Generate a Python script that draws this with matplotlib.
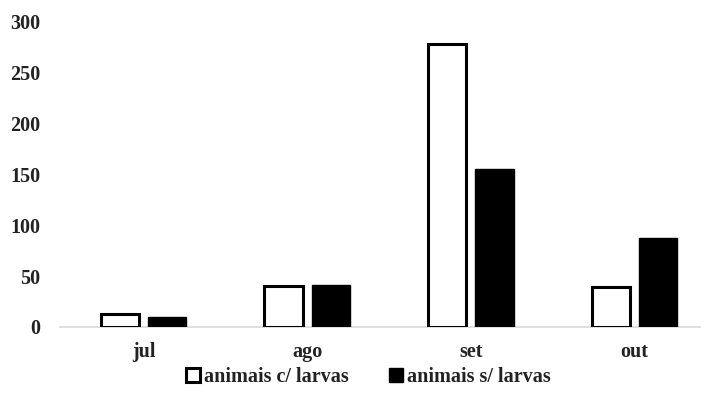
import numpy as np
import matplotlib
matplotlib.use("Agg")
import matplotlib.pyplot as plt

meses = ["jul", "ago", "set", "out"]
com_larvas = [13, 40, 278, 39]
sem_larvas = [10, 41, 155, 88]

plt.rcParams['font.family'] = ['Liberation Serif', 'DejaVu Serif']
plt.rcParams['font.weight'] = 'bold'

fig = plt.figure(figsize=(7.08, 4.09), dpi=100)
ax = fig.add_axes([60 / 708, 1 - 327 / 409, 640 / 708, (327 - 22) / 409])

x = np.arange(len(meses))
w = 0.235
ax.bar(x - 0.145, com_larvas, w, color='white', edgecolor='black', linewidth=2.2,
       label='animais c/ larvas', zorder=3)
ax.bar(x + 0.145, sem_larvas, w, color='black', edgecolor='black', linewidth=1,
       label='animais s/ larvas', zorder=3)

ax.set_xlim(-0.51, 3.4)
ax.set_ylim(0, 300)
ax.set_yticks(np.arange(0, 301, 50))
ax.set_xticks(x)
ax.set_xticklabels(meses)
for s in ['top', 'right', 'left']:
    ax.spines[s].set_visible(False)
ax.spines['bottom'].set_color('#d9d9d9')
ax.spines['bottom'].set_linewidth(1.2)
ax.tick_params(axis='both', length=0, labelsize=14.5, colors='#222222')
ax.tick_params(axis='y', pad=14)
ax.tick_params(axis='x', pad=11)

leg = fig.legend(loc='lower center', bbox_to_anchor=(0.52, 0.01), ncol=2, frameon=False,
                 fontsize=14.5, handlelength=0.7, handleheight=0.7, handletextpad=0.2,
                 columnspacing=2.0)
for t in leg.get_texts():
    t.set_color('#222222')

fig.savefig('out.png', dpi=100)
